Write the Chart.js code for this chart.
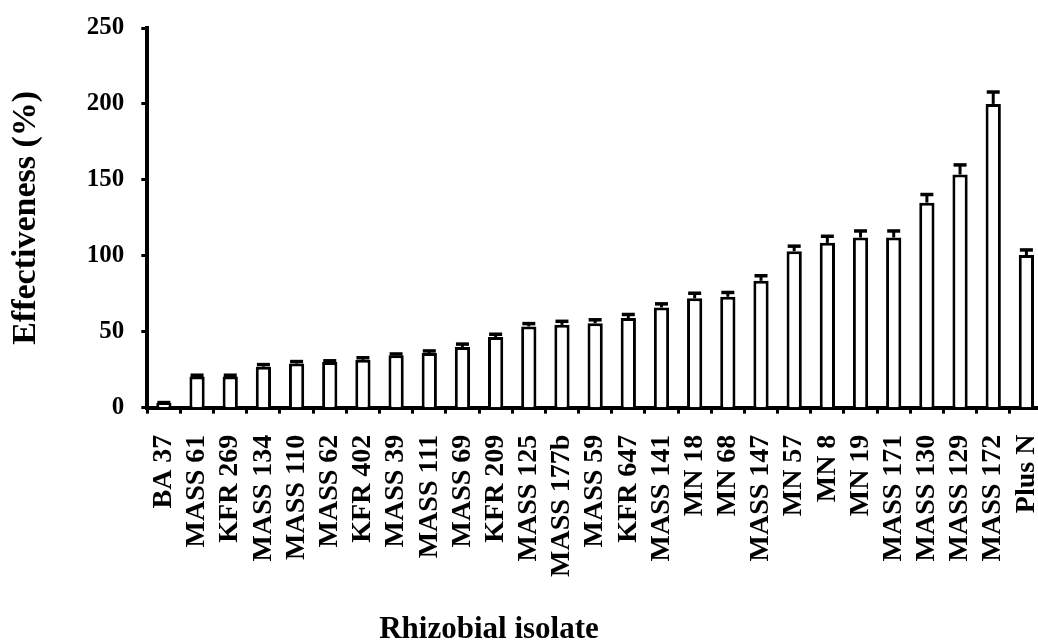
<!DOCTYPE html>
<html>
<head>
<meta charset="utf-8">
<script src="https://cdn.jsdelivr.net/npm/chart.js@4/dist/chart.umd.min.js"></script>
<style>
  html, body { margin: 0; padding: 0; background: #fff; overflow: hidden; }
  #wrap { position: absolute; left: 0; top: 0; width: 1081px; height: 660px; }
</style>
</head>
<body>
<div id="wrap"><canvas id="effChart"></canvas></div>
<script>
// isolates, in the order they appear on the x axis
const isolates = ["BA 37", "MASS 61", "KFR 269", "MASS 134", "MASS 110", "MASS 62", "KFR 402",
  "MASS 39", "MASS 111", "MASS 69", "KFR 209", "MASS 125", "MASS 177b", "MASS 59", "KFR 647",
  "MASS 141", "MN 18", "MN 68", "MASS 147", "MN 57", "MN 8", "MN 19", "MASS 171", "MASS 130",
  "MASS 129", "MASS 172", "Plus N"];
// effectiveness (%)
const effectiveness = [3, 20.5, 20.5, 27, 29, 30, 31.5, 34.5, 36, 40, 46.5, 53.5, 54.5, 55.5, 59,
  66, 72, 73, 83.5, 103, 108.5, 112, 112, 135, 153.5, 200, 100.5];
// upper error bar length
const errors = [1, 1.5, 1.5, 2, 2, 1.5, 2, 1.5, 2, 2.5, 2.5, 2.5, 3, 3, 3,
  3, 4, 3.5, 4, 4, 5, 5, 5, 6, 7, 8.5, 4];
const yMin = 0, yMax = 250, yStep = 50;
const xTitle = "Rhizobial isolate";

const serif = "'Liberation Serif', 'Times New Roman', serif";

// draws the upward error bars using the bar elements and the y scale
const errorBars = {
  id: "errorBars",
  afterDatasetsDraw(chart) {
    const ctx = chart.ctx;
    const yScale = chart.scales.y;
    const meta = chart.getDatasetMeta(0);
    ctx.save();
    ctx.strokeStyle = "#000";
    ctx.lineCap = "butt";
    meta.data.forEach((bar, i) => {
      const top = yScale.getPixelForValue(effectiveness[i] + errors[i]);
      ctx.lineWidth = 3;
      ctx.beginPath();
      ctx.moveTo(bar.x, bar.y);
      ctx.lineTo(bar.x, top);
      ctx.stroke();
      ctx.lineWidth = 3.5;
      ctx.beginPath();
      ctx.moveTo(bar.x - 6.5, top + 1);
      ctx.lineTo(bar.x + 6.5, top + 1);
      ctx.stroke();
    });
    ctx.restore();
  }
};

// x axis title sits left of centre in the original, so it is drawn here
const bottomTitle = {
  id: "bottomTitle",
  afterDraw(chart) {
    const ctx = chart.ctx;
    ctx.save();
    ctx.fillStyle = "#000";
    ctx.font = "bold 31px " + serif;
    ctx.textAlign = "center";
    ctx.textBaseline = "alphabetic";
    ctx.fillText(xTitle, 489, 638);
    ctx.restore();
  }
};

new Chart("effChart", {
  type: "bar",
  data: {
    labels: isolates,
    datasets: [{
      data: effectiveness,
      backgroundColor: "#fff",
      borderColor: "#000",
      borderWidth: 3,
      barPercentage: 0.46,
      categoryPercentage: 1
    }]
  },
  options: {
    responsive: true,
    maintainAspectRatio: false,
    devicePixelRatio: 1,
    animation: false,
    layout: { padding: { top: 10, right: 0, bottom: 62, left: 0 } },
    plugins: {
      legend: { display: false },
      tooltip: { enabled: false }
    },
    scales: {
      x: {
        grid: {
          offset: true,
          drawOnChartArea: false,
          drawTicks: true,
          tickLength: 6,
          tickWidth: 3,
          tickColor: "#000"
        },
        border: { display: true, color: "#000", width: 4 },
        ticks: {
          minRotation: 90,
          maxRotation: 90,
          autoSkip: false,
          padding: 21,
          color: "#000",
          font: { family: serif, size: 28, weight: "bold" }
        }
      },
      y: {
        min: yMin,
        max: yMax,
        grid: {
          drawOnChartArea: false,
          drawTicks: true,
          tickLength: 6,
          tickWidth: 3,
          tickColor: "#000"
        },
        border: { display: true, color: "#000", width: 4 },
        ticks: {
          stepSize: yStep,
          padding: 17,
          color: "#000",
          font: { family: serif, size: 25, weight: "bold", lineHeight: 0.88 }
        },
        title: {
          display: true,
          text: "Effectiveness (%)",
          color: "#000",
          font: { family: serif, size: 34, weight: "bold" },
          padding: { top: 6, bottom: 23 }
        }
      }
    }
  },
  plugins: [errorBars, bottomTitle]
});
</script>
</body>
</html>
